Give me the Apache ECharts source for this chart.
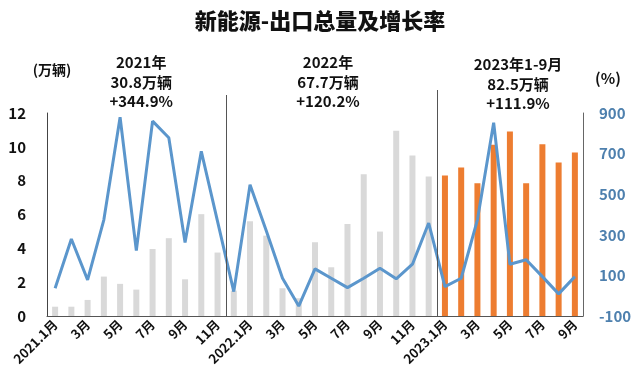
<!DOCTYPE html>
<html>
<head>
<meta charset="utf-8">
<script src="https://cdn.jsdelivr.net/npm/echarts@6/dist/echarts.min.js"></script>
<style>
html,body{margin:0;padding:0;background:#fff;}
#chart{width:640px;height:387px;}
</style>
</head>
<body>
<div id="chart"></div>
<script>
// ---- data ----
var categories = [
  '2021.1月','2月','3月','4月','5月','6月','7月','8月','9月','10月','11月','12月',
  '2022.1月','2月','3月','4月','5月','6月','7月','8月','9月','10月','11月','12月',
  '2023.1月','2月','3月','4月','5月','6月','7月','8月','9月'
];
var exports2021 = [0.55, 0.55, 0.95, 2.33, 1.9, 1.56, 3.96, 4.6, 2.17, 6.02, 3.75, 1.5];
var exports2022 = [5.6, 4.75, 1.64, 1.05, 4.36, 2.88, 5.44, 8.38, 4.99, 10.95, 9.49, 8.24];
var exports2023 = [8.3, 8.78, 7.85, 10.12, 10.9, 7.85, 10.16, 9.07, 9.66];
var growth2021 = [37, 279, 78, 374, 879, 222, 860, 778, 262, 711, 366, 20];
var growth2022 = [547, 320, 86, -51, 132, 86, 40, 86, 135, 83, 155, 358];
var growth2023 = [45, 86, 374, 852, 155, 177, 94, 9, 94];
var leftTicks = [0, 12, 2];
var rightTicks = [-100, 900, 200];
var titleText = '新能源-出口总量及增长率';
var annotations = [
  {text: '2021年\n30.8万辆\n+344.9%', at: 5.3, top: 53},
  {text: '2022年\n67.7万辆\n+120.2%', at: 16.8, top: 53},
  {text: '2023年1-9月\n82.5万辆\n+111.9%', at: 28.5, top: 55}
];

var grayColor = '#D9D9D9';
var orangeColor = '#ED7D31';
var lineColor = '#5B96CC';
var font = '"Noto Sans CJK SC", "Open Sans", sans-serif';

var barData = [];
exports2021.concat(exports2022).forEach(function(v){ barData.push({value: v, itemStyle: {color: grayColor}}); });
exports2023.forEach(function(v){ barData.push({value: v, itemStyle: {color: orangeColor}}); });
var lineData = growth2021.concat(growth2022, growth2023);

var chart = echarts.init(document.getElementById('chart'));
chart.setOption({
  animation: false,
  backgroundColor: '#fff',
  title: {
    text: titleText, left: 'center', top: 5,
    textStyle: {fontFamily: font, fontSize: 22, fontWeight: 900, color: '#111'}
  },
  grid: {left: 47, right: 57, top: 113, bottom: 71},
  xAxis: {
    type: 'category', data: categories, boundaryGap: true,
    axisLine: {lineStyle: {color: '#555', width: 1}},
    axisTick: {show: false},
    axisLabel: {interval: 1, rotate: 45, margin: 6, color: '#111', fontWeight: 'bold', fontSize: 13, fontFamily: font}
  },
  yAxis: [{
    type: 'value', min: leftTicks[0], max: leftTicks[1], interval: leftTicks[2],
    axisLine: {show: true, lineStyle: {color: '#444', width: 1}},
    axisTick: {show: false}, splitLine: {show: false},
    axisLabel: {margin: 21, color: '#111', fontWeight: 'bold', fontSize: 15, fontFamily: font}
  }, {
    type: 'value', min: rightTicks[0], max: rightTicks[1], interval: rightTicks[2],
    position: 'right',
    axisLine: {show: true, lineStyle: {color: '#666', width: 1}},
    axisTick: {show: false}, splitLine: {show: false},
    axisLabel: {margin: 16, color: '#4E80AE', fontWeight: 'bold', fontSize: 15, fontFamily: font}
  }],
  series: [{
    type: 'bar', data: barData, barWidth: 6, yAxisIndex: 0, z: 2
  }, {
    type: 'line', data: lineData, yAxisIndex: 1, symbol: 'none', z: 3,
    lineStyle: {color: lineColor, width: 3}, itemStyle: {color: lineColor}
  }]
});

function drawExtras(){
  var rect = chart.getModel().getComponent('grid').coordinateSystem.getRect();
  var n = categories.length;
  var bottom = chart.convertToPixel({yAxisIndex: 0}, 0);
  var g = [];
  // separators between year groups
  [[11, 95], [24, 90]].forEach(function(s){
    var x = Math.round(rect.x + rect.width * s[0] / n) + 0.5;
    g.push({type: 'line', shape: {x1: x, y1: s[1], x2: x, y2: bottom}, style: {stroke: '#555', lineWidth: 1}, z: 10});
  });
  annotations.forEach(function(a){
    var x = rect.x + rect.width * (a.at + 0.5) / n;
    g.push({type: 'text', x: x, y: a.top, style: {text: a.text, x: 0, y: 0, textAlign: 'center', textVerticalAlign: 'top', font: 'bold 15px ' + font, fill: '#111', lineHeight: 19.5}, z: 10});
  });
  g.push({type: 'text', x: 52, y: 70, style: {text: '(万辆)', textAlign: 'center', textVerticalAlign: 'middle', font: 'bold 14px ' + font, fill: '#111'}, z: 10});
  g.push({type: 'text', x: 608, y: 78, style: {text: '(%)', textAlign: 'center', textVerticalAlign: 'middle', font: 'bold 15px ' + font, fill: '#111'}, z: 10});
  chart.setOption({graphic: g});
}
drawExtras();
</script>
</body>
</html>
